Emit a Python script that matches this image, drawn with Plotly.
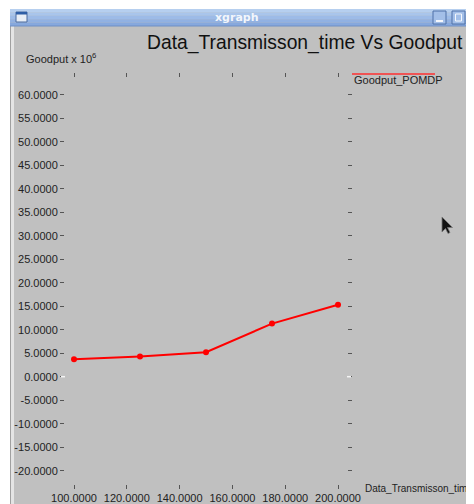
import plotly.graph_objects as go

W, H = 474, 504
OFF = 8  # page body margin offset

# ---- data ----
transmission_time = [100, 125, 150, 175, 200]
goodput_pomdp = [3.7, 4.3, 5.2, 11.3, 15.3]
ytick_vals = list(range(-20, 65, 5))
ytick_text = [f"{v:.4f}" for v in ytick_vals]
xtick_vals = [100, 120, 140, 160, 180, 200]
xtick_text = [f"{v:.4f}" for v in xtick_vals]

# plot area in screen pixels
L, R, T, B = 65, 347, 78, 484


def px(x):
    return (x - OFF) / W


def py(y):
    return 1 - (y - OFF) / H


BG = "#c0c0c0"
FONT = "Liberation Sans"

fig = go.Figure()
fig.add_trace(go.Scatter(
    x=transmission_time, y=goodput_pomdp, mode="lines+markers",
    line=dict(color="#ff0000", width=2),
    marker=dict(color="#ff0000", size=6),
    name="Goodput_POMDP", showlegend=False,
))

shapes = []
# white desktop strips
shapes.append(dict(type="rect", xref="paper", yref="paper", x0=0, x1=1, y0=py(9), y1=1,
                   fillcolor="white", line=dict(width=0), layer="below"))
shapes.append(dict(type="rect", xref="paper", yref="paper", x0=0, x1=px(10), y0=0, y1=1,
                   fillcolor="white", line=dict(width=0), layer="below"))
# left window border
shapes.append(dict(type="rect", xref="paper", yref="paper", x0=px(10), x1=px(14), y0=0, y1=py(26),
                   fillcolor="#e4e4e4", line=dict(width=0), layer="below"))
shapes.append(dict(type="line", xref="paper", yref="paper", x0=px(10.5), x1=px(10.5), y0=0, y1=py(26),
                   line=dict(color="#a0a0a0", width=1), layer="below"))
# title bar gradient bands
bands = ["#b6cfef", "#a9c5eb", "#9dbbe7", "#91b1e2", "#86a8dd"]
y0 = 9
step = 17 / len(bands)
for i, c in enumerate(bands):
    shapes.append(dict(type="rect", xref="paper", yref="paper", x0=px(10), x1=1,
                       y0=py(y0 + (i + 1) * step), y1=py(y0 + i * step),
                       fillcolor=c, line=dict(width=0), layer="below"))
shapes.append(dict(type="line", xref="paper", yref="paper", x0=px(10), x1=1, y0=py(26), y1=py(26),
                   line=dict(color="#6f8fc4", width=1), layer="below"))
# window icon
shapes.append(dict(type="rect", xref="paper", yref="paper", x0=px(16), x1=px(27), y0=py(22), y1=py(12),
                   fillcolor="#e8eef6", line=dict(color="#4a6a9e", width=1), layer="below"))
shapes.append(dict(type="rect", xref="paper", yref="paper", x0=px(16), x1=px(27), y0=py(14.5), y1=py(12),
                   fillcolor="#2e5ea6", line=dict(width=0), layer="below"))
# title bar buttons
for bx0, bx1 in [(433, 446), (452, 465), (469, 480)]:
    shapes.append(dict(type="rect", xref="paper", yref="paper", x0=px(bx0), x1=px(bx1), y0=py(24), y1=py(11),
                       fillcolor="#a3bfe8", line=dict(color="#4f71a8", width=1), layer="below"))
shapes.append(dict(type="line", xref="paper", yref="paper", x0=px(436), x1=px(443), y0=py(21), y1=py(21),
                   line=dict(color="#f4f7fc", width=2)))
shapes.append(dict(type="rect", xref="paper", yref="paper", x0=px(455.5), x1=px(461.5), y0=py(21), y1=py(14),
                   line=dict(color="#f4f7fc", width=1)))
# white zero ticks (xgraph draws the zero tick highlighted)
for zx0, zx1 in [(61, 65), (347, 351)]:
    shapes.append(dict(type="line", xref="paper", yref="y", x0=px(zx0), x1=px(zx1), y0=0, y1=0,
                       line=dict(color="#f4f4f4", width=1.5)))
# legend line
shapes.append(dict(type="line", xref="paper", yref="paper", x0=px(352), x1=px(435), y0=py(74), y1=py(74),
                   line=dict(color="#ff3030", width=1.5)))
# mouse cursor
cur = [(442, 217), (442, 232), (445.5, 228.5), (448, 233.5), (450, 232.5), (447.5, 227.5), (452.5, 227.5)]
path = "M " + " L ".join(f"{px(x):.5f} {py(y):.5f}" for x, y in cur) + " Z"
shapes.append(dict(type="path", xref="paper", yref="paper", path=path,
                   fillcolor="#111111", line=dict(color="#777777", width=0.8)))

annotations = [
    dict(text="<b>xgraph</b>", x=px(237), y=py(17.5), xref="paper", yref="paper", showarrow=False,
         xanchor="center", yanchor="middle", font=dict(family="DejaVu Sans", size=11, color="#f2f6fc")),
    dict(text="Data_Transmisson_time Vs Goodput", x=px(145), y=py(43), xref="paper", yref="paper",
         showarrow=False, xanchor="left", yanchor="middle", font=dict(family=FONT, size=19.3, color="#111111")),
    dict(text="Goodput x 10<sup>6</sup>", x=px(24), y=py(58), xref="paper", yref="paper",
         showarrow=False, xanchor="left", yanchor="middle", font=dict(family=FONT, size=11, color="#222222")),
    dict(text="Goodput_POMDP", x=px(352), y=py(80), xref="paper", yref="paper",
         showarrow=False, xanchor="left", yanchor="middle", font=dict(family=FONT, size=11, color="#222222")),
    dict(text="Data_Transmisson_time", x=px(363), y=py(488), xref="paper", yref="paper",
         showarrow=False, xanchor="left", yanchor="middle", font=dict(family=FONT, size=10, color="#222222")),
]

fig.update_layout(
    width=W, height=H,
    margin=dict(l=0, r=0, t=0, b=0, autoexpand=False),
    paper_bgcolor=BG, plot_bgcolor=BG,
    shapes=shapes, annotations=annotations,
    showlegend=False,
    xaxis=dict(domain=[px(L), px(R)], range=[96.59, 203.4], tickvals=xtick_vals, ticktext=xtick_text,
               ticks="outside", ticklen=4, tickcolor="#555555", mirror="ticks", showline=True,
               linecolor=BG, showgrid=False, zeroline=False, automargin=False,
               tickfont=dict(family=FONT, size=11, color="#222222")),
    yaxis=dict(domain=[py(B), py(T)], range=[-22.83, 63.55], tickvals=ytick_vals, ticktext=ytick_text,
               ticks="outside", ticklen=4, tickcolor="#555555", mirror="ticks", showline=True,
               linecolor=BG, showgrid=False, zeroline=False, automargin=False,
               ticklabelstandoff=0,
               tickfont=dict(family=FONT, size=11, color="#222222")),
)

fig.write_html("out.html")
